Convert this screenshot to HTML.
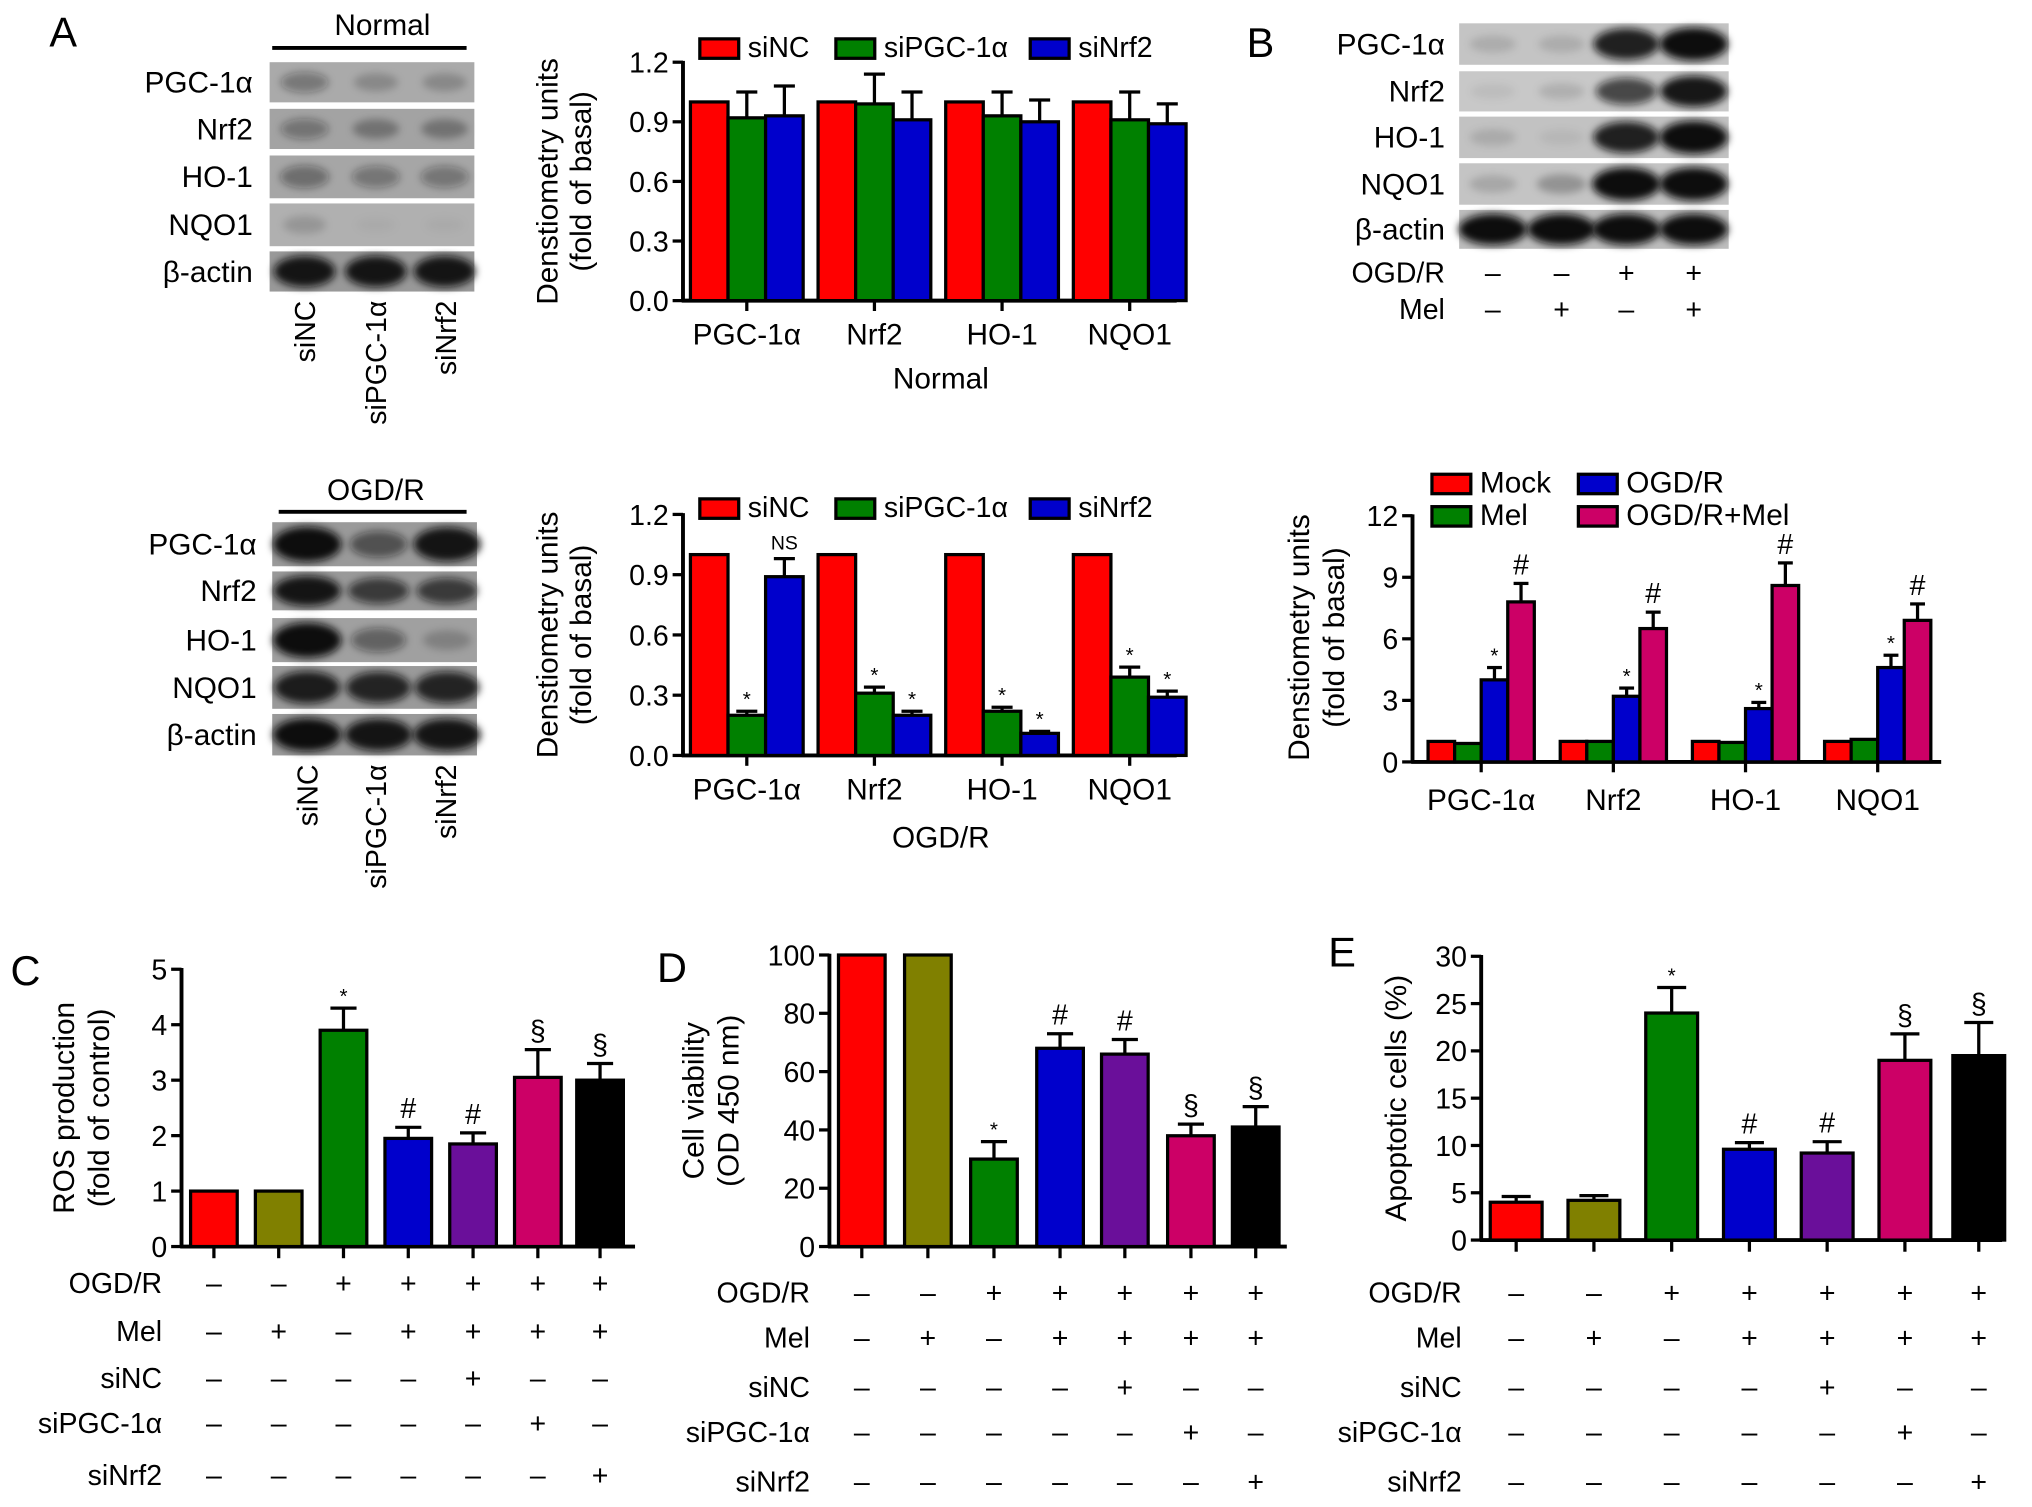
<!DOCTYPE html>
<html><head><meta charset="utf-8"><style>
html,body{margin:0;padding:0;background:#fff}
svg{display:block}
text{font-family:"Liberation Sans",sans-serif;fill:#000}
</style></head><body>
<svg id="fig" width="2032" height="1507" viewBox="0 0 1568 1163" xmlns="http://www.w3.org/2000/svg">
<defs><filter id="blur" x="-20%" y="-50%" width="140%" height="200%"><feGaussianBlur stdDeviation="3"/></filter></defs>
</svg>
<script>
// ---------- data ----------
const genes = ["PGC-1\u03b1","Nrf2","HO-1","NQO1"];
const aSeries = ["siNC","siPGC-1\u03b1","siNrf2"];
const aNormalSiNC = [1,1,1,1];
const aNormalSiPGC = [0.92,0.99,0.93,0.91];
const aNormalSiNrf2 = [0.93,0.91,0.90,0.89];
const aNormalErrPGC = [0.13,0.15,0.12,0.14];
const aNormalErrNrf2 = [0.15,0.14,0.11,0.10];
const aOgdSiNC = [1,1,1,1];
const aOgdSiPGC = [0.20,0.31,0.22,0.39];
const aOgdSiNrf2 = [0.89,0.20,0.11,0.29];
const aOgdErrPGC = [0.02,0.03,0.02,0.05];
const aOgdErrNrf2 = [0.09,0.02,0.01,0.03];
const aOgdMarkPGC = ["*","*","*","*"];
const aOgdMarkNrf2 = ["NS","*","*","*"];
const aTicks = [0,0.3,0.6,0.9,1.2];
const aTickLabels = ["0.0","0.3","0.6","0.9","1.2"];
const bSeries = ["Mock","Mel","OGD/R","OGD/R+Mel"];
const bMock = [1,1,1,1];
const bMel = [0.9,1.0,0.95,1.1];
const bOgd = [4.0,3.2,2.6,4.6];
const bOgdMel = [7.8,6.5,8.6,6.9];
const bErrOgd = [0.6,0.4,0.3,0.6];
const bErrOgdMel = [0.9,0.8,1.1,0.8];
const bTicks = [0,3,6,9,12];
const cValues = [1,1,3.9,1.95,1.85,3.05,3.0];
const cErrors = [0,0,0.4,0.2,0.2,0.5,0.3];
const cMarks = ["","","*","#","#","\u00a7","\u00a7"];
const cTicks = [0,1,2,3,4,5];
const dValues = [100,100,30,68,66,38,41];
const dErrors = [0,0,6,5,5,4,7];
const dMarks = ["","","*","#","#","\u00a7","\u00a7"];
const dTicks = [0,20,40,60,80,100];
const eValues = [4,4.2,24,9.6,9.2,19,19.5];
const eErrors = [0.6,0.5,2.7,0.7,1.2,2.8,3.5];
const eMarks = ["","","*","#","#","\u00a7","\u00a7"];
const eTicks = [0,5,10,15,20,25,30];
const condRows = ["OGD/R","Mel","siNC","siPGC-1\u03b1","siNrf2"];
const condOGD = ["-","-","+","+","+","+","+"];
const condMel = ["-","+","-","+","+","+","+"];
const condSiNC = ["-","-","-","-","+","-","-"];
const condSiPGC = ["-","-","-","-","-","+","-"];
const condSiNrf2 = ["-","-","-","-","-","-","+"];
const condColors = ["#ff0000","#808000","#008000","#0000cc","#6a0f9a","#cc0066","#000000"];

// ---------- helpers ----------
const NS="http://www.w3.org/2000/svg";
const svg=document.getElementById('fig');
function el(tag,attrs,parent){const e=document.createElementNS(NS,tag);for(const k in attrs)e.setAttribute(k,attrs[k]);(parent||svg).appendChild(e);return e;}
function txt(s,x,y,size,anchor,parent,rot){const t=el('text',{x:x,y:y,'font-size':size,'text-anchor':anchor||'start'},parent);if(rot)t.setAttribute('transform','rotate('+rot+' '+x+' '+y+')');t.textContent=s;return t;}
function grp(name){const g=el('g',{});return g;}
function sign(s){return s==="+"?"+":"\u2013";}

function yAxis(g,x,y0,y1,ticks,labels,vmax,fs){
  const ys=v=>y0-(v/vmax)*(y0-y1);
  const ax=el('line',{x1:x,y1:y0+1,x2:x,y2:ys(ticks[ticks.length-1])-1,stroke:'#000','stroke-width':3},g);
  
  ticks.forEach((t,i)=>{el('line',{x1:x-8,y1:ys(t),x2:x,y2:ys(t),stroke:'#000','stroke-width':2.5},g);
    const l=txt(labels?labels[i]:String(t),x-11,ys(t)+8,fs||22,'end',g);
    });
  return ys;
}
function bar(g,x,w,ys,v,color,err,mark,name){
  const r=el('rect',{x:x,y:ys(v),width:w,height:ys(0)-ys(v),fill:color,stroke:'#000','stroke-width':2.5},g);
  
  let top=ys(v);
  if(err>0){const cx=x+w/2;const ye=ys(v+err);
    el('line',{x1:cx,y1:ys(v),x2:cx,y2:ye,stroke:'#000','stroke-width':2.5},g);
    el('line',{x1:cx-w*0.28,y1:ye,x2:cx+w*0.28,y2:ye,stroke:'#000','stroke-width':2.5},g);top=ye;}
  if(mark){const fs=mark==="*"?16:(mark==="NS"?15:22);const m=txt(mark,x+w/2,top-(mark==="*"?4:7),fs,'middle',g);
    }
}
function legendBox(g,x,y,color,label,fs){
  el('rect',{x:x,y:y-14,width:30,height:15,fill:color,stroke:'#000','stroke-width':2.5},g);
  const t=txt(label,x+37,y,fs||22,'start',g);
}

// ---------- blots ----------
function blot(name,x0,rowsY,labels,lanes,intens,labelX,bg){
  const g=grp(name);
  rowsY.forEach((r,i)=>{
    el('rect',{x:x0,y:r[0],width:lanes.w,height:r[1]-r[0],fill:bg[i]},g);
    lanes.cx.forEach((cx,j)=>{const a=intens[i][j];if(a<=0)return;
      const e=el('ellipse',{cx:cx,cy:(r[0]+r[1])/2,rx:lanes.rx*(0.7+0.4*a),ry:(r[1]-r[0])*(0.18+0.22*a),fill:'#111','fill-opacity':Math.min(1,a),filter:'url(#blur)'},g);
      });
    const t=txt(labels[i],labelX,(r[0]+r[1])/2+8,23,'end',g);
    
  });
  return g;
}
const blotLabels=["PGC-1\u03b1","Nrf2","HO-1","NQO1","\u03b2-actin"];
txt("A",38,36,32,'start');
{const g=grp('normal-header');txt("Normal",295,27,23,'middle',g);el('line',{x1:210,y1:37,x2:360,y2:37,stroke:'#000','stroke-width':3},g);}
blot('blot-normal',208,[[48,79],[84,115],[120,153],[157,190],[194,225]],blotLabels,{w:158,cx:[235,290,343],rx:22},
 [[0.35,0.2,0.2],[0.35,0.3,0.3],[0.4,0.35,0.35],[0.15,0.03,0.03],[0.95,0.95,0.95]],195,['#aaa','#a3a3a3','#a6a6a6','#b0b0b0','#999']);
{const g=grp('lane-labels-normal');["siNC","siPGC-1\u03b1","siNrf2"].forEach((s,i)=>txt(s,[243,298,352][i],232,22,'end',g,-90));}
{const g=grp('ogdr-header');txt("OGD/R",290,386,23,'middle',g);el('line',{x1:215,y1:395,x2:360,y2:395,stroke:'#000','stroke-width':3},g);}
blot('blot-ogdr',210,[[403,437],[441,471],[477,511],[514,547],[551,583]],blotLabels,{w:158,cx:[237,292,345],rx:24},
 [[1,0.55,0.95],[0.95,0.7,0.7],[1,0.45,0.2],[0.9,0.85,0.85],[1,0.95,0.95]],198,['#9a9a9a','#999','#a0a0a0','#9a9a9a','#999']);
{const g=grp('lane-labels-ogdr');["siNC","siPGC-1\u03b1","siNrf2"].forEach((s,i)=>txt(s,[245,298,352][i],590,22,'end',g,-90));}
txt("B",962,44,32,'start');
blot('blot-b',1126,[[18,50],[55,86],[90,122],[126,158],[162,192]],blotLabels,{w:208,cx:[1152,1205,1255,1307],rx:24},
 [[0.12,0.12,0.9,1],[0.06,0.12,0.7,0.95],[0.12,0.06,0.9,1],[0.15,0.25,1,1],[1,1,1,1]],1115,['#c4c4c4','#c8c8c8','#c2c2c2','#c4c4c4','#bdbdbd']);
{const g=grp('blot-b-conditions');
 txt("OGD/R",1115,218,22,'end',g);txt("Mel",1115,246,22,'end',g);
 const bO=["-","-","+","+"],bM=["-","+","-","+"];
 [1152,1205,1255,1307].forEach((x,i)=>{txt(sign(bO[i]),x,218,22,'middle',g);txt(sign(bM[i]),x,246,22,'middle',g);});}

// ---------- Panel A charts ----------
function groupedA(name,y0,y1,s1,s2,s3,e2,e3,m2,m3,legY,xlabel,xlabY){
  const g=grp(name);
  const ys=yAxis(g,527,y0,y1,aTicks,aTickLabels,1.2,22);
  const step=98.5,start=527,bw=29;
  const xc=i=>start+step*(i+0.5);
  el('line',{x1:526,y1:y0,x2:908,y2:y0,stroke:'#000','stroke-width':3},g);
  genes.forEach((gname,i)=>{
    const c=xc(i);
    bar(g,c-1.5*bw,bw,ys,s1[i],'#ff0000',0,'', 'bar-sinc');
    bar(g,c-0.5*bw,bw,ys,s2[i],'#008000',e2[i],m2?m2[i]:'', 'bar-sipgc');
    bar(g,c+0.5*bw,bw,ys,s3[i],'#0000cc',e3[i],m3?m3[i]:'', 'bar-sinrf2');
    el('line',{x1:c,y1:y0,x2:c,y2:y0+8,stroke:'#000','stroke-width':2.5},g);
    const t=txt(gname,c,y0+34,23,'middle',g);
  });
  legendBox(g,540,legY,'#ff0000',aSeries[0]);legendBox(g,645,legY,'#008000',aSeries[1]);legendBox(g,795,legY,'#0000cc',aSeries[2]);
  const mid=(y0+y1)/2;
  txt("Denstiometry units",430,mid,23,'middle',g,-90);
  txt("(fold of basal)",456,mid,23,'middle',g,-90);
  txt(xlabel,726,xlabY,23,'middle',g);
}
groupedA('chart-a-normal',232,48,aNormalSiNC,aNormalSiPGC,aNormalSiNrf2,aNormalErrPGC,aNormalErrNrf2,null,null,44,"Normal",300);
groupedA('chart-a-ogdr',583,397,aOgdSiNC,aOgdSiPGC,aOgdSiNrf2,aOgdErrPGC,aOgdErrNrf2,aOgdMarkPGC,aOgdMarkNrf2,399,"OGD/R",654);

// ---------- Panel B chart ----------
{const g=grp('chart-b');
 const y0=588,y1=398;
 const ys=yAxis(g,1090,y0,y1,bTicks,null,12,22);
 el('line',{x1:1089,y1:y0,x2:1498,y2:y0,stroke:'#000','stroke-width':3},g);
 const step=102,start=1092,bw=20.5;
 const series=[bMock,bMel,bOgd,bOgdMel],cols=['#ff0000','#008000','#0000cc','#cc0066'];
 const errs=[null,null,bErrOgd,bErrOgdMel],marks=['','','*','#'];
 genes.forEach((gname,i)=>{const c=start+step*(i+0.5);
   series.forEach((s,k)=>bar(g,c-2*bw+k*bw,bw,ys,s[i],cols[k],errs[k]?errs[k][i]:0,marks[k],'bar-'+bSeries[k].toLowerCase().replace(/[^a-z]+/g,'-')));
   el('line',{x1:c,y1:y0,x2:c,y2:y0+8,stroke:'#000','stroke-width':2.5},g);
   txt(gname,c,y0+37,23,'middle',g);});
 legendBox(g,1105,380,'#ff0000',bSeries[0],23);legendBox(g,1105,405,'#008000',bSeries[1],23);
 legendBox(g,1218,380,'#0000cc',bSeries[2],23);legendBox(g,1218,405,'#cc0066',bSeries[3],23);
 txt("Denstiometry units",1010,492,23,'middle',g,-90);
 txt("(fold of basal)",1037,492,23,'middle',g,-90);
}

// ---------- Panels C, D, E ----------
function single(name,letter,lx,ly,axX,y0,y1,xEnd,ticks,vmax,vals,errs,marks,centers,bw,title1,title2,tx,rowYs,labX){
  const g=grp(name);
  txt(letter,lx,ly,32,'start',g);
  const ys=yAxis(g,axX,y0,y1,ticks,null,vmax,22);
  el('line',{x1:axX-1,y1:y0,x2:xEnd,y2:y0,stroke:'#000','stroke-width':3},g);
  vals.forEach((v,i)=>{bar(g,centers[i]-bw/2,bw,ys,v,condColors[i],errs[i],marks[i],'bar-'+(i+1));
    el('line',{x1:centers[i],y1:y0,x2:centers[i],y2:y0+9,stroke:'#000','stroke-width':2.5},g);});
  const mid=(y0+y1)/2;
  txt(title1,tx,mid,23,'middle',g,-90);
  if(title2)txt(title2,tx+27,mid,23,'middle',g,-90);
  const rows=[condOGD,condMel,condSiNC,condSiPGC,condSiNrf2];
  const tg=grp(name+'-condition-table');
  rows.forEach((r,k)=>{txt(condRows[k],labX,rowYs[k],22,'end',tg);
    r.forEach((s,i)=>txt(sign(s),centers[i],rowYs[k],22,'middle',tg));});
}
single('chart-c',"C",8,760,140,962,748,490,cTicks,5,cValues,cErrors,cMarks,[165,215,265,315,365,415,463],36,
 "ROS production","(fold of control)",57,[998,1035,1071,1106,1146],125);
single('chart-d',"D",507,758,640,962,737,993,dTicks,100,dValues,dErrors,dMarks,[665,716,767,818,868,919,969],36,
 "Cell viability","(OD 450 nm)",543,[1005,1040,1078,1113,1151],625);
single('chart-e',"E",1025,746,1143,957,738,1545,eTicks,30,eValues,eErrors,eMarks,[1170,1230,1290,1350,1410,1470,1527],40,
 "Apoptotic cells (%)",null,1085,[1005,1040,1078,1113,1151],1128);
</script>
</body></html>
